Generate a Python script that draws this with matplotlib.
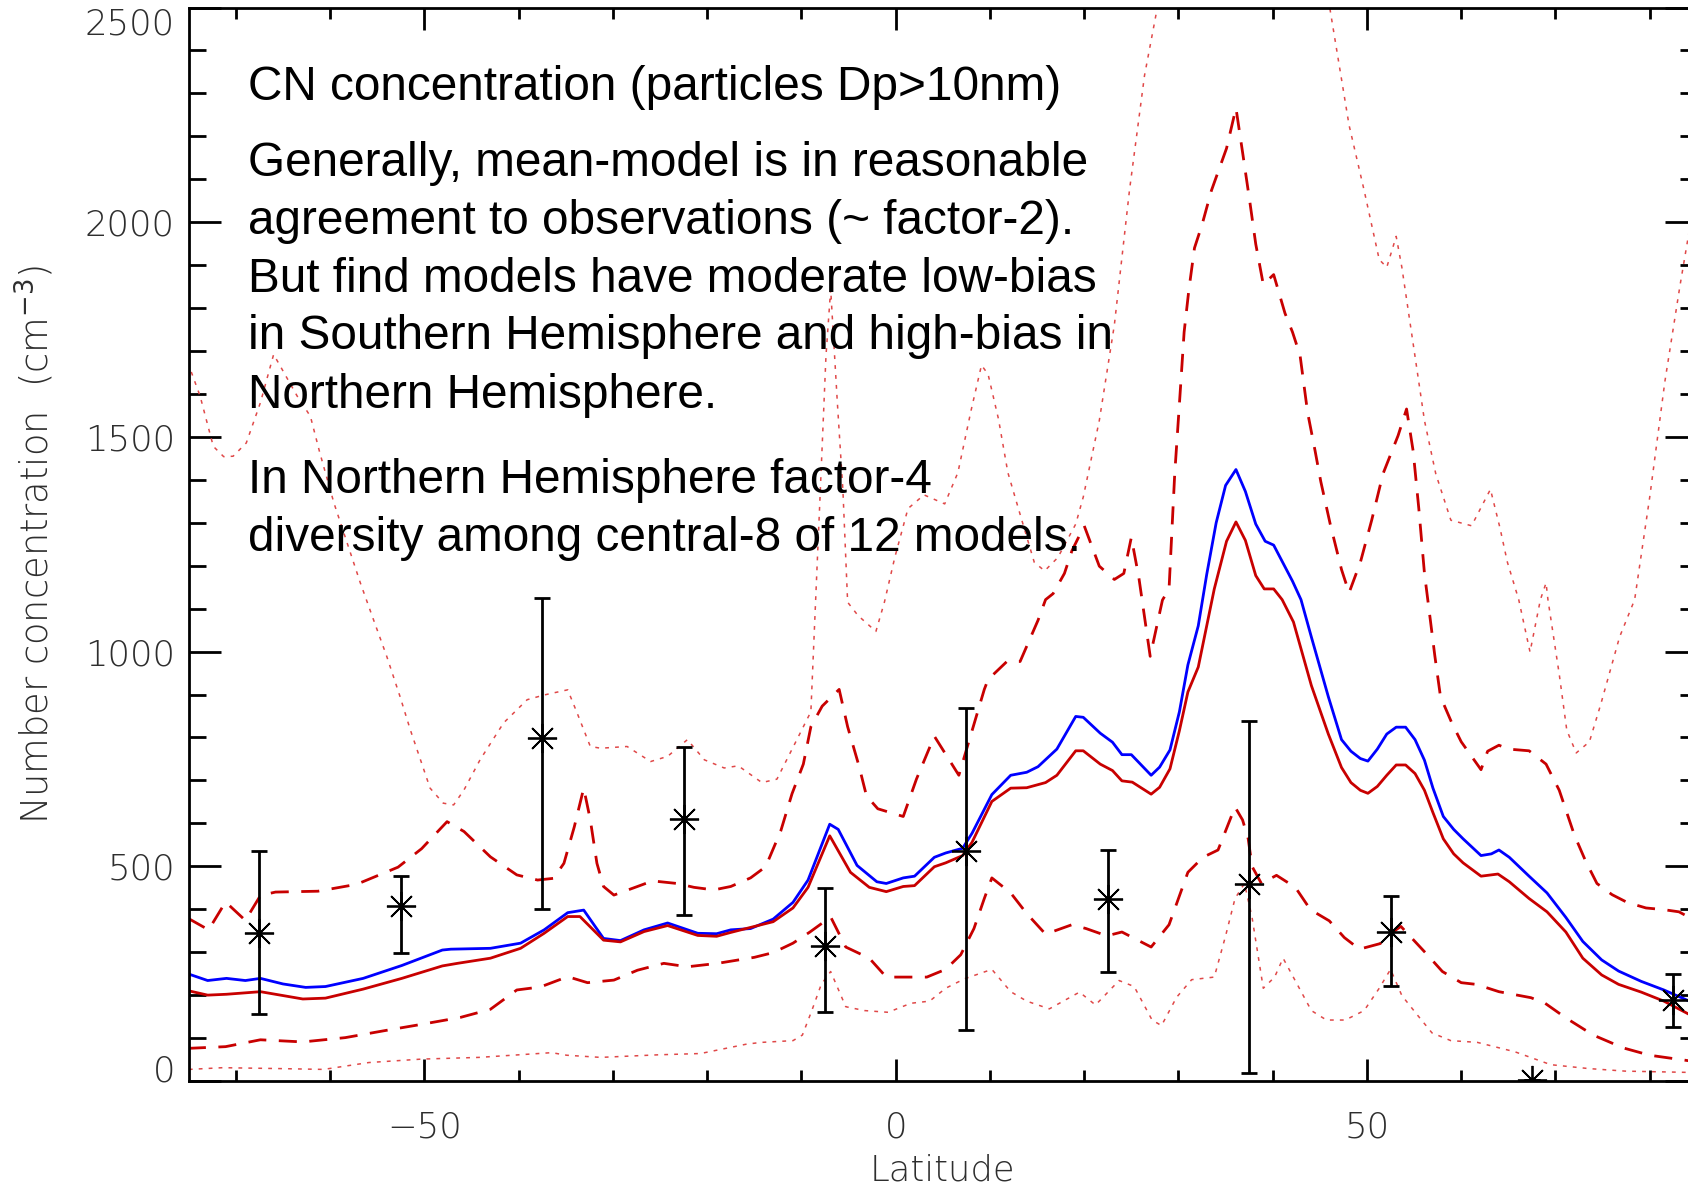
import matplotlib
matplotlib.use("Agg")
import matplotlib.pyplot as plt

# mean of models (blue)
mean_lat = [-75, -73, -71, -69, -67.4, -65, -62.6, -60.5, -56.5, -52.4, -48.1, -47.2, -43, -39.8, -37.3,
            -34.8, -33.1, -31.0, -29.2, -26.7, -24.2, -21.0, -19.0, -17.5, -15.4, -13.0, -10.9, -9.3, -7.0,
            -6.1, -4.1, -2.0, -1.0, 0.8, 2.0, 4.1, 5.3, 7.1, 8.1, 10.2, 12.2, 13.9, 15.1, 17.1, 19.1, 19.9,
            21.7, 23.0, 24.0, 25.0, 27.1, 28.0, 29.1, 30.1, 31.0, 32.1, 33.0, 34.0, 35.0, 36.1, 37.1, 38.2,
            39.2, 40.1, 42.1, 43.0, 44.1, 45.9, 47.3, 48.3, 49.3, 50.1, 51.1, 52.1, 53.1, 54.1, 55.1, 56.1,
            57.0, 58.1, 59.2, 60.2, 62.1, 63.2, 64.0, 65.1, 67.2, 69.1, 71.1, 72.9, 74.9, 76.7, 79.1, 81.5,
            84.2, 85]
mean_cn = [249, 234, 239, 234, 239, 226, 218, 220, 239, 269, 305, 307, 309, 321, 352,
           392, 398, 332, 327, 352, 368, 344, 343, 352, 355, 377, 416, 468, 598,
           586, 502, 464, 460, 473, 477, 521, 531, 542, 577, 667, 712, 719, 732, 773, 849, 847,
           810, 789, 760, 760, 712, 731, 771, 860, 969, 1060, 1180, 1300, 1387, 1424, 1373, 1297,
           1257, 1248, 1164, 1121, 1034, 895, 795, 768, 751, 745, 773, 808, 824, 824, 795, 747,
           682, 616, 586, 564, 525, 529, 538, 521, 477, 438, 381, 325, 282, 256, 232, 212,
           186, 180]

# median of models (red)
med_lat = [-75, -73, -71, -67.4, -62.9, -60.5, -56.5, -52.4, -48.1, -46.5, -43, -39.8, -37.3, -34.8,
           -33.5, -31.0, -29.2, -26.7, -24.2, -21.0, -19.0, -17.5, -13.0, -10.9, -9.3, -7.0, -4.8, -2.8,
           -1.0, 0.8, 2.0, 4.1, 5.3, 7.1, 8.1, 10.2, 12.2, 13.9, 15.9, 17.1, 19.1, 19.9, 21.7, 23.0, 24.0,
           25.1, 27.1, 28.0, 29.1, 30.1, 31.0, 32.1, 33.8, 35.1, 36.1, 37.1, 38.2, 39.1, 40.1, 41.0, 42.2,
           44.1, 45.9, 47.3, 48.3, 49.3, 50.1, 51.1, 52.1, 53.1, 54.1, 55.1, 56.1, 57.0, 58.1, 59.2, 60.2,
           62.1, 63.9, 65.1, 67.2, 69.1, 71.1, 72.9, 74.9, 76.7, 79.1, 81.5, 84.2, 85]
med_cn = [210, 200, 202, 208, 191, 193, 214, 239, 268, 274, 286, 309, 344, 383,
          383, 328, 324, 348, 362, 339, 337, 346, 371, 403, 451, 571, 486, 451,
          441, 453, 455, 499, 508, 525, 556, 651, 682, 683, 695, 712, 769, 769, 738, 723, 699,
          696, 668, 684, 727, 816, 906, 964, 1146, 1257, 1302, 1259, 1177, 1146, 1146, 1121, 1069,
          921, 808, 730, 695, 677, 670, 686, 712, 736, 736, 716, 677, 625, 564, 529, 508,
          477, 482, 464, 425, 394, 347, 286, 247, 225, 207, 186, 155, 150]

# central-8 range (dashed)
hi8_lat = [-75.0, -72.9, -71.1, -69.0, -67.4, -65.8, -61.3, -57.2, -52.8, -50.3, -47.6, -45.8, -43.0,
           -40.2, -38.0, -36.3, -35.2, -34.1, -33.1, -32.4, -31.7, -31.0, -29.9, -27.4, -25.8, -23.2,
           -21.4, -19.3, -17.5, -15.4, -13.8, -12.2, -11.0, -9.8, -9.0, -7.8, -6.0, -5.1, -3.9, -3.1,
           -1.9, 0.8, 2.2, 4.1, 6.7, 9.4, 9.8, 11.8, 13.2, 15.1, 15.9, 16.7, 17.9, 18.7, 20.0, 21.6,
           23.2, 24.2, 25.0, 25.8, 27.0, 28.3, 29.0, 29.6, 30.2, 30.6, 31.1, 31.7, 32.5, 33.5, 34.3,
           35.1, 36.1, 36.8, 37.6, 38.2, 39.0, 40.1, 41.3, 42.1, 42.9, 43.7, 44.5, 45.1, 46.1, 47.3,
           48.1, 49.3, 50.5, 51.7, 53.3, 54.2, 54.9, 55.5, 56.1, 56.6, 57.2, 57.8, 59.0, 60.0, 62.1,
           62.8, 64.0, 65.0, 67.2, 69.0, 70.4, 72.0, 73.2, 74.4, 76.0, 77.6, 79.6, 81.5, 83.1, 84.2, 85]
hi8_cn = [378, 352, 417, 374, 432, 440, 442, 458, 498, 541, 604, 581, 522,
          480, 468, 472, 507, 592, 682, 608, 507, 453, 433, 453, 466, 460,
          451, 445, 453, 473, 499, 582, 669, 738, 825, 873, 912, 825, 734, 664,
          634, 616, 703, 803, 712, 912, 935, 977, 977, 1073, 1121, 1135, 1182, 1235, 1293, 1199,
          1168, 1182, 1266, 1172, 989, 1120, 1146, 1413, 1610, 1744, 1842, 1940, 1994, 2074, 2123,
          2172, 2266, 2163, 2043, 1949, 1855, 1878, 1788, 1744, 1690, 1557, 1467, 1396, 1297, 1191,
          1137, 1208, 1306, 1414, 1503, 1565, 1467, 1333, 1182, 1095, 990, 895, 834, 790, 725,
          768, 782, 773, 769, 738, 677, 573, 512, 460, 434, 416, 403, 399, 394, 381, 378]

lo8_lat = [-75.1, -73.1, -71.1, -67.4, -62.9, -58.4, -54.3, -50.3, -46.2, -43.0, -40.2, -37.7, -34.8,
           -32.7, -29.9, -27.4, -24.6, -22.1, -18.9, -15.0, -13.0, -10.9, -9.1, -6.9, -5.3, -2.8, -1.0,
           0.8, 3.3, 5.3, 6.9, 8.3, 9.4, 10.2, 12.2, 13.9, 15.9, 18.7, 20.2, 22.4, 24.0, 27.1, 29.0,
           31.0, 32.6, 34.2, 36.0, 36.8, 37.4, 37.8, 38.8, 40.4, 42.4, 44.0, 46.0, 47.6, 49.2, 51.4,
           52.6, 53.6, 56.4, 58.0, 60.0, 61.6, 64.0, 67.4, 68.9, 71.1, 74.0, 77.2, 80.0, 84.2, 85]
lo8_cn = [76, 78, 80, 96, 91, 101, 117, 132, 148, 167, 212, 219, 243,
          229, 235, 258, 274, 266, 274, 288, 299, 321, 347, 382, 312, 286, 242,
          242, 242, 260, 294, 355, 425, 473, 438, 390, 342, 364, 355, 338, 347, 312, 364,
          486, 521, 538, 638, 608, 564, 500, 460, 479, 451, 399, 373, 334, 307, 320,
          345, 360, 294, 255, 229, 225, 208, 194, 181, 147, 107, 77, 60, 47, 46]

# full range of models (dotted)
max_lat = [-75.1, -73.8, -72.4, -71.3, -70.3, -68.9, -67.4, -66.0, -65.3, -63.5, -62.1, -61.1, -59.6,
           -58.2, -56.8, -55.4, -54.0, -52.6, -51.5, -49.4, -48.0, -46.9, -45.8, -44.1, -41.6, -39.1,
           -37.3, -34.8, -33.8, -32.4, -31.3, -28.5, -26.0, -24.2, -22.1, -20.3, -18.2, -16.7, -14.2,
           -12.6, -10.6, -9.0, -8.1, -7.4, -6.9, -6.2, -5.6, -5.1, -4.0, -2.1, -1.2, -0.1, 1.3, 3.0,
           5.2, 6.6, 8.0, 9.1, 9.8, 10.9, 11.9, 13.3, 14.7, 15.8, 17.2, 19.1, 19.9, 21.6, 23.2, 24.8,
           26.4, 27.7, 30, 34, 38, 42, 46.1, 48.1, 49.7, 51.3, 52.1, 53.1, 53.7, 54.9, 56.1, 57.3,
           58.9, 61.1, 63.1, 64.1, 64.9, 66.1, 67.3, 68.4, 69.0, 69.2, 70.4, 71.2, 72.2, 73.6, 74.8,
           76.8, 78.4, 80.0, 81.6, 83.2, 84.3, 85]
max_cn = [1673, 1595, 1478, 1454, 1455, 1486, 1580, 1692, 1665, 1595, 1548, 1463, 1346,
          1253, 1160, 1074, 989, 896, 818, 682, 647, 643, 678, 748, 834, 888,
          899, 911, 857, 779, 775, 779, 744, 756, 795, 748, 729, 734, 695,
          703, 790, 860, 1323, 1688, 1844, 1583, 1375, 1115, 1084, 1047, 1115, 1219, 1333, 1365,
          1344, 1417, 1562, 1667, 1646, 1542, 1417, 1312, 1208, 1188, 1219, 1297, 1360, 1538, 1761, 2074,
          2342, 2493, 2850, 3300, 3300, 2950, 2493, 2226, 2074, 1913, 1895, 1967, 1895, 1717, 1538, 1414,
          1306, 1293, 1378, 1289, 1208, 1121, 999, 1121, 1160, 1121, 947, 817, 764, 790, 877,
          1034, 1121, 1360, 1628, 1851, 1994, 2080]

min_lat = [-75, -71.4, -65.6, -60.7, -55.9, -50.3, -44.2, -36.5, -34.9, -31.3, -25.2, -20.7, -15.8,
           -14.2, -10.9, -9.9, -8.9, -7.9, -6.9, -5.3, -3.3, -0.8, 1.6, 3.6, 5.3, 7.3, 10.2, 12.2,
           13.9, 16.3, 19.5, 21.2, 23.7, 25.3, 27.2, 28.2, 29.8, 31.4, 33.8, 35.0, 36.0, 37.0, 37.8,
           39.0, 40.2, 41.1, 42.6, 44.1, 45.7, 47.7, 49.7, 51.3, 52.5, 53.7, 55.3, 56.9, 58.9, 61.7,
           65.7, 69.5, 73.5, 77.4, 84.2, 85]
min_cn = [27, 31, 29, 27, 43, 51, 55, 66, 60, 55, 61, 64, 86,
          90, 94, 107, 164, 225, 255, 173, 164, 160, 181, 186, 216, 238, 260, 208,
          186, 168, 207, 177, 234, 220, 142, 129, 195, 236, 242, 338, 425, 460, 382,
          216, 242, 286, 225, 164, 142, 142, 164, 216, 260, 199, 155, 112, 94, 90,
          68, 38, 29, 23, 20, 20]

# observations, 15 degree bands
obs_lat = [-67.5, -52.5, -37.5, -22.5, -7.5, 7.5, 22.5, 37.5, 52.5, 67.5, 82.5]
obs_cn = [344, 407, 798, 609, 314, 535, 425, 458, 347, 3, 188]
obs_lo = [155, 297, 401, 387, 161, 118, 253, 18, 222, 3, 125]
obs_hi = [535, 478, 1124, 777, 449, 868, 538, 838, 431, 3, 249]

dark_red = '#c80000'
light_red = '#e04848'
label_grey = '#2e2e2e'

fig = plt.figure(figsize=(16.88, 11.85), dpi=100)
ax = fig.add_axes([0.11185, 0.08776, 0.8934, 0.90591])

ax.plot(max_lat, max_cn, color=light_red, lw=1.1, linestyle=(0, (2.5, 4)))
ax.plot(min_lat, min_cn, color=light_red, lw=1.1, linestyle=(0, (2.5, 4)))
ax.plot(hi8_lat, hi8_cn, color=dark_red, lw=2, linestyle=(0, (6.5, 4.5)))
ax.plot(lo8_lat, lo8_cn, color=dark_red, lw=2, linestyle=(0, (6.5, 4.5)))
ax.plot(mean_lat, mean_cn, color='#0000ff', lw=2)
ax.plot(med_lat, med_cn, color=dark_red, lw=2)

err = [[v - lo for v, lo in zip(obs_cn, obs_lo)], [hi - v for v, hi in zip(obs_cn, obs_hi)]]
ax.errorbar(obs_lat, obs_cn, yerr=err, fmt='none', ecolor='black', elinewidth=2,
            capsize=5.6, capthick=2)
ax.plot(obs_lat, obs_cn, linestyle='none', marker=(8, 2, 0), markersize=21,
        markeredgewidth=1.3, color='black')

ax.set_xlim(-75, 85)
ax.set_ylim(0, 2500)
ax.set_xticks([-50, 0, 50])
ax.set_xticks(range(-70, 90, 10), minor=True)
ax.set_yticks(range(0, 2501, 500))
ax.set_yticks(range(0, 2501, 100), minor=True)

for s in ax.spines.values():
    s.set_linewidth(2)
ax.tick_params(which='both', direction='in', top=True, right=True, width=2,
               labelcolor=label_grey, labelsize=25.5)
ax.tick_params(axis='x', which='major', length=15.5, pad=21)
ax.tick_params(axis='x', which='minor', length=7.6)
ax.tick_params(axis='y', which='major', length=23, pad=10)
ax.tick_params(axis='y', which='minor', length=12)
for lab in ax.get_xticklabels() + ax.get_yticklabels():
    lab.set_fontweight('light')
# keep end labels inside the frame, as in the original
ylabs = ax.get_yticklabels()
ylabs[-1].set_va('top')
ylabs[0].set_va('baseline')

ax.set_xlabel('Latitude', fontsize=25.5, color=label_grey, labelpad=7, fontweight='light')
ax.set_ylabel('Number concentration  (cm$^{-3}$)', fontsize=26.5, color=label_grey,
              labelpad=21, fontweight='light')

txt = dict(fontsize=34.4, family='Liberation Sans', color='black', va='baseline')
x0 = 248 / 1688
lines = [
    ("CN concentration (particles Dp>10nm)", 100.4),
    ("Generally, mean-model is in reasonable", 176.5),
    ("agreement to observations (~ factor-2).", 234.4),
    ("But find models have moderate low-bias", 292.4),
    ("in Southern Hemisphere and high-bias in", 348.8),
    ("Northern Hemisphere.", 408.3),
    ("In Northern Hemisphere factor-4", 493.3),
    ("diversity among central-8 of 12 models.", 551.3),
]
for s, yb in lines:
    fig.text(x0, 1 - yb / 1185, s, **txt)

fig.savefig('out.png', dpi=100)
